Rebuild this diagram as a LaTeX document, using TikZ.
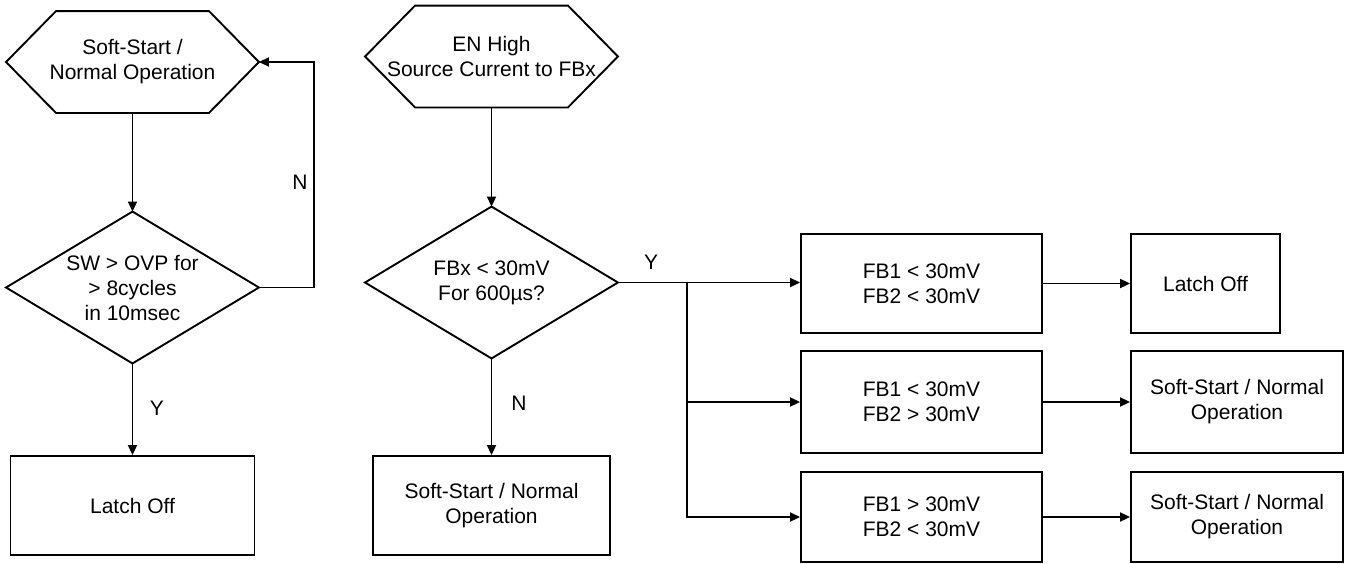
\documentclass[tikz,border=0pt]{standalone}
\usepackage{fontspec}
\setmainfont{Liberation Sans}
\usetikzlibrary{arrows.meta}
\begin{document}
\begin{tikzpicture}[x=1pt,y=-1pt,line width=1.9pt,
  txt/.style={font=\fontsize{21}{25}\selectfont,align=center,inner sep=0pt},
  hexbox/.style={txt,rectangle,minimum width=251pt,minimum height=100pt},
  decision/.style={txt,rectangle,minimum width=251pt,minimum height=150pt},
  procbox/.style={txt,draw,rectangle},
  lbl/.style={txt},
  arr/.style={-{Triangle[length=10pt,width=9pt]}}]
\useasboundingbox (0,0) rectangle (1348,563);
% left column
\node[hexbox] (h1) at (132.5,62) {Soft-Start /\\Normal Operation};
\node[decision] (d1) at (132.5,287.5) {SW > OVP for\\> 8cycles\\in 10msec};
\node[procbox,minimum width=244pt,minimum height=99pt] (b1) at (132.5,505.5) {Latch Off};
% middle column
\node[hexbox] (h2) at (491.5,56.5) {EN High\\Source Current to FBx};
\node[decision] (d2) at (491.5,282.5) {FBx < 30mV\\For 600µs?};
\node[procbox,minimum width=237pt,minimum height=99pt] (b2) at (491.5,505.5) {Soft-Start / Normal\\Operation};
% right columns
\node[procbox,minimum width=241pt,minimum height=99pt] (r1) at (921.5,283.5) {FB1 < 30mV\\FB2 < 30mV};
\node[procbox,minimum width=241pt,minimum height=102pt] (r2) at (921.5,402) {FB1 < 30mV\\FB2 > 30mV};
\node[procbox,minimum width=241pt,minimum height=90pt] (r3) at (921.5,517) {FB1 > 30mV\\FB2 < 30mV};
\node[procbox,minimum width=149pt,minimum height=99pt] (o1) at (1205.5,283.5) {Latch Off};
\node[procbox,minimum width=212pt,minimum height=102pt] (o2) at (1237,402) {Soft-Start / Normal\\Operation};
\node[procbox,minimum width=212pt,minimum height=90pt] (o3) at (1237,517) {Soft-Start / Normal\\Operation};
% outlines of hexagons and diamonds
\foreach \n in {h1,h2}
  \draw (\n.west) -- ([xshift=50pt]\n.north west) -- ([xshift=-50pt]\n.north east)
        -- (\n.east) -- ([xshift=-50pt]\n.south east) -- ([xshift=50pt]\n.south west) -- cycle;
\foreach \n in {d1,d2}
  \draw (\n.north) -- (\n.east) -- (\n.south) -- (\n.west) -- cycle;
% connectors
\draw[arr] (h1.south) -- (d1.north);
\draw[arr] (d1.south) -- (b1.north);
\coordinate (loop) at (314,287.5);
\draw[arr] (d1.east) -- (loop) |- (h1.east);
\draw[arr] (h2.south) -- (d2.north);
\draw[arr] (d2.south) -- (b2.north);
\draw[arr] (d2.east) -- (r1.west |- d2.east);
\coordinate (br) at (687,282.5);
\draw[arr] (br) |- (r2.west);
\draw[arr] (br) |- (r3.west);
\draw[arr] (r1.east) -- (o1.west);
\draw[arr] (r2.east) -- (o2.west);
\draw[arr] (r3.east) -- (o3.west);
% labels
\node[lbl] (ln1) at (300,182) {N};
\node[lbl] (ly1) at (157,408) {Y};
\node[lbl] (ln2) at (519,403) {N};
\node[lbl] (ly2) at (651,262) {Y};
\end{tikzpicture}
\end{document}
